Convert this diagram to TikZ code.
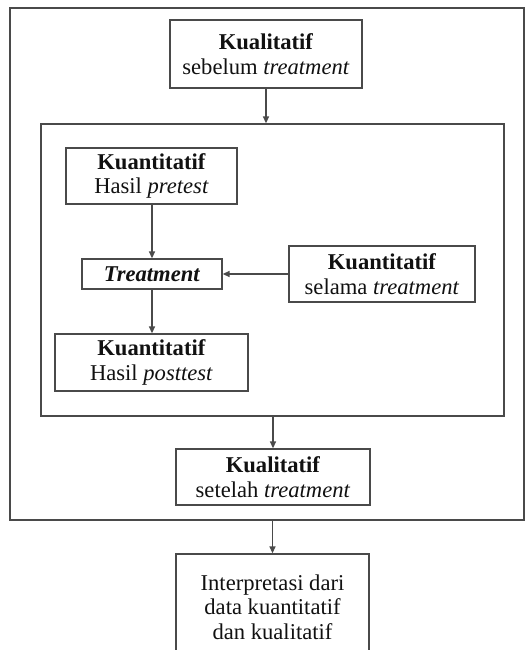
\documentclass[tikz,border=0pt]{standalone}
\usepackage{fontspec}
\setmainfont{Liberation Serif}
\usetikzlibrary{arrows.meta}
\definecolor{linegray}{HTML}{4A4A4A}
\definecolor{textblack}{HTML}{111111}
\tikzset{
  box/.style={draw=linegray, line width=1.3pt, inner sep=0pt, align=center,
    text=textblack, font=\fontsize{22.6}{24.5}\selectfont},
  frame/.style={draw=linegray, line width=1.3pt, inner sep=0pt},
  conn/.style={draw=linegray, line width=1.4pt, -{Triangle[length=7pt,width=6pt]}},
}
\begin{document}
\begin{tikzpicture}[x=1pt,y=-1pt]
\useasboundingbox (0,0) rectangle (525,650);
\clip (0,0) rectangle (525,650);
\fill[white] (0,0) rectangle (525,650);
% outer frame (right edge at the picture's edge)
\node[frame, minimum width=514pt, minimum height=512pt] (outer) at (267,264) {};
% inner frame
\node[frame, minimum width=463pt, minimum height=292pt] (inner) at (272.5,270) {};
\node[box, minimum width=192pt, minimum height=68pt] (top) at (266,54) {\textbf{Kualitatif}\\sebelum \textit{treatment}};
\node[box, minimum width=171pt, minimum height=56pt] (pre) at (151.5,176) {\textbf{Kuantitatif}\\Hasil \textit{pretest}};
\node[box, minimum width=140pt, minimum height=30pt] (treat) at (152,274) {\textbf{\textit{Treatment}}};
\node[box, minimum width=186pt, minimum height=56pt] (sel) at (382,274) {\textbf{Kuantitatif}\\selama \textit{treatment}};
\node[box, minimum width=193pt, minimum height=57pt] (post) at (151.5,362.5) {\textbf{Kuantitatif}\\Hasil \textit{posttest}};
\node[box, minimum width=194pt, minimum height=56pt] (setelah) at (273,477) {\textbf{Kualitatif}\\setelah \textit{treatment}};
\node[box, minimum width=193pt, minimum height=106pt] (interp) at (272.5,607) {Interpretasi dari\\data kuantitatif\\dan kualitatif};
% connectors
\draw[conn] (top.south) -- (top.south |- inner.north);
\draw[conn] (pre.south -| treat.north) -- (treat.north);
\draw[conn] (sel.west) -- (treat.east);
\draw[conn] (treat.south) -- (treat.south |- post.north);
\draw[conn] (setelah.north |- inner.south) -- (setelah.north);
\draw[conn] (interp.north |- outer.south) -- (interp.north);
\end{tikzpicture}
\end{document}
